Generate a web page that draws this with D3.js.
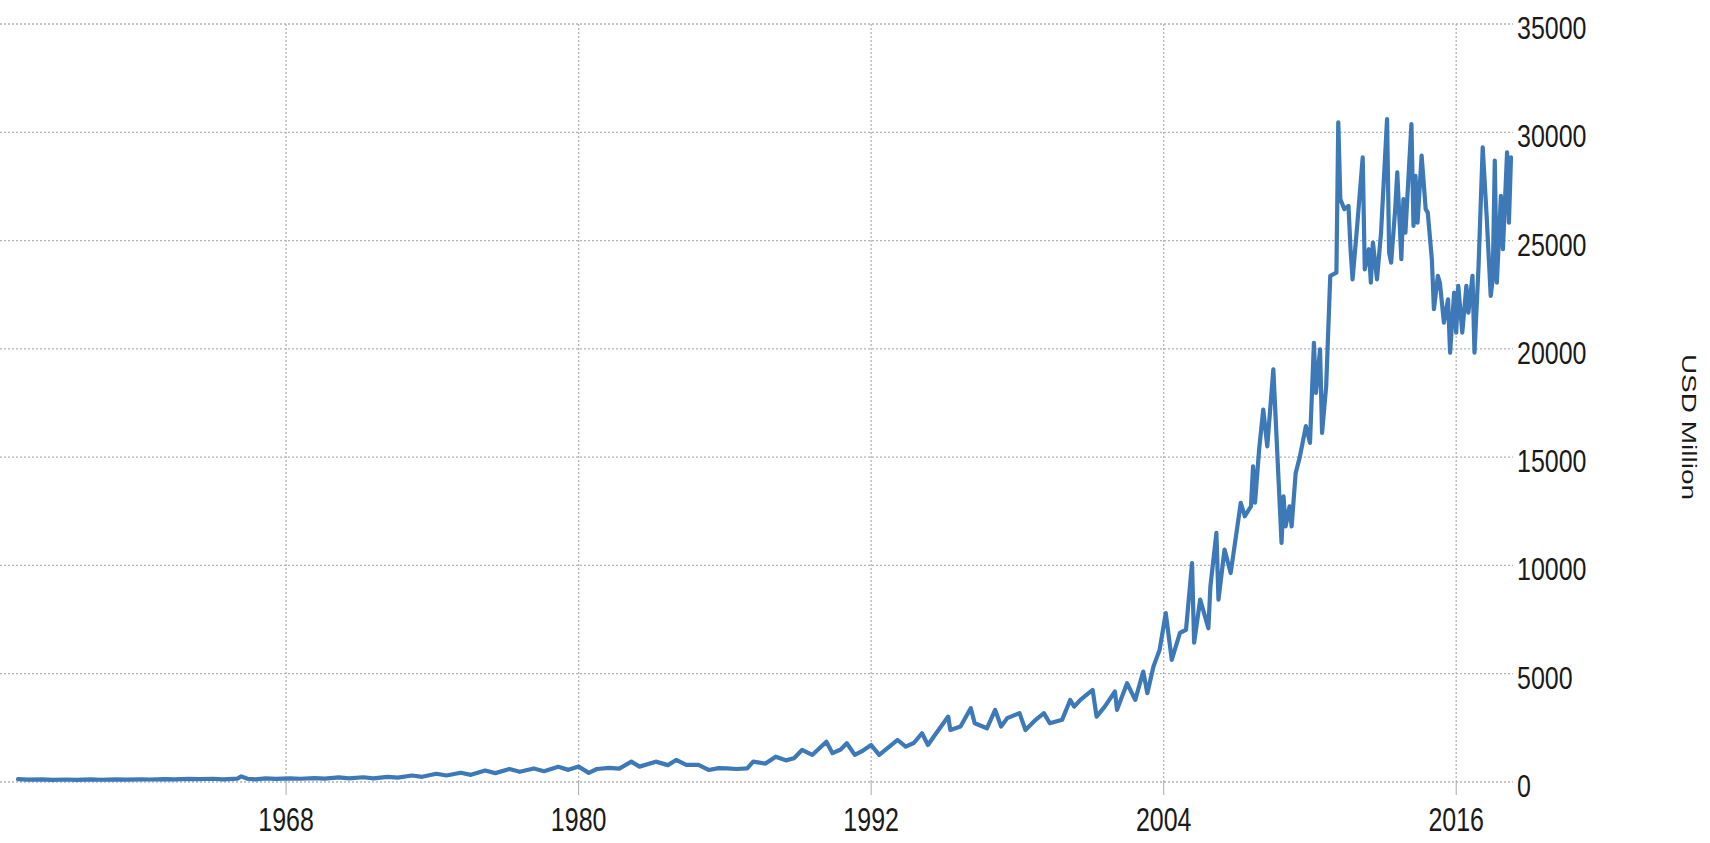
<!DOCTYPE html>
<html>
<head>
<meta charset="utf-8">
<script src="https://cdn.jsdelivr.net/npm/d3@7"></script>
<style>
  html, body { margin: 0; padding: 0; background: #fff; }
  svg { display: block; }
</style>
</head>
<body>
<svg id="chart" width="1710" height="843"></svg>
<script>
// ---- data (monthly samples, USD million) ----
const dates = [
  "1957-01","1957-06","1958-01","1958-06","1959-01","1959-06","1960-01","1960-06",
  "1961-01","1961-06","1962-01","1962-06","1963-01","1963-06","1964-01","1964-06",
  "1965-01","1965-06","1966-01","1966-03","1966-06","1966-10","1967-03","1967-08",
  "1968-03","1968-08","1969-03","1969-08","1970-03","1970-08","1971-03","1971-08",
  "1972-03","1972-08","1973-03","1973-08","1974-03","1974-08","1975-03","1975-08",
  "1976-03","1976-08","1977-03","1977-08","1978-03","1978-08","1979-03","1979-08",
  "1980-01","1980-06","1980-10","1981-04","1981-09","1982-03","1982-07","1983-03",
  "1983-09","1984-01","1984-06","1984-12","1985-05","1985-10","1986-02","1986-07",
  "1986-12","1987-03","1987-09","1988-02","1988-07","1988-11","1989-03","1989-08",
  "1990-03","1990-06","1990-10","1991-01","1991-05","1991-09","1992-01","1992-05",
  "1992-08","1993-02","1993-06","1993-10","1994-02","1994-05","1994-09","1995-03",
  "1995-04","1995-09","1996-02","1996-04","1996-10","1997-02","1997-05","1997-08",
  "1998-02","1998-05","1998-10","1999-02","1999-05","1999-11","2000-03","2000-05",
  "2000-08","2001-02","2001-04","2001-08","2002-01","2002-02","2002-07","2002-11",
  "2003-03","2003-05","2003-08","2003-11","2004-02","2004-05","2004-09","2004-12",
  "2005-03","2005-04","2005-07","2005-11","2005-12","2006-03","2006-04","2006-07",
  "2006-10","2007-03","2007-05","2007-08","2007-09","2007-10","2007-12","2008-02",
  "2008-04","2008-07","2008-11","2008-12","2009-01","2009-03","2009-04","2009-06",
  "2009-08","2009-11","2010-01","2010-03","2010-04","2010-06","2010-07","2010-09",
  "2010-11","2011-02","2011-03","2011-04","2011-06","2011-08","2011-09","2011-10",
  "2011-12","2012-03","2012-04","2012-06","2012-07","2012-08","2012-10","2012-12",
  "2013-03","2013-04","2013-05","2013-07","2013-08","2013-10","2013-11","2013-12",
  "2014-03","2014-04","2014-05","2014-06","2014-08","2014-10","2014-11","2015-01",
  "2015-02","2015-04","2015-05","2015-07","2015-09","2015-10","2015-12","2016-01",
  "2016-02","2016-04","2016-06","2016-07","2016-09","2016-10","2016-12","2017-02",
  "2017-04","2017-06","2017-07","2017-08","2017-09","2017-11","2017-12","2018-02",
  "2018-03","2018-04"
];
const exportsUSD = [
  130,110,120,95,115,100,120,105,
  125,110,125,115,135,120,145,130,
  150,125,160,260,150,120,170,140,
  170,150,180,155,210,165,220,170,
  240,200,300,240,380,300,430,330,
  530,410,600,470,620,500,700,560,
  710,420,600,650,620,940,710,940,
  780,1020,790,790,555,640,633,600,
  633,940,850,1170,1000,1095,1480,1250,
  1860,1330,1500,1790,1250,1450,1710,1250,
  1480,1940,1630,1800,2250,1710,2250,3020,
  2400,2560,3410,2710,2480,3330,2560,2950,
  3180,2400,2870,3180,2710,2870,3790,3480,
  3790,4250,3020,3480,4180,3330,4560,3790,
  5100,4100,5330,6100,7800,5640,6890,7030,
  10110,6430,8420,7100,9030,11500,8420,10730,
  9650,12890,12270,12730,14580,12900,15350,17200,
  15500,19050,11040,13190,11800,12730,11800,14270,
  15000,16430,15660,20280,17970,19980,16120,18280,
  23370,23520,30460,26910,26450,26600,24600,23210,
  25370,28840,23670,24600,23060,24910,23210,25370,
  30610,24450,23980,26450,28150,24140,26910,25370,
  30380,25680,27990,25830,28920,26450,26290,24140,
  21830,23370,23060,21210,22290,19820,22600,20750,
  22910,20750,22910,21670,23370,19820,23830,29300,
  26140,22440,23210,28690,23060,27060,24600,29070,
  25830,28840
];
const xTickYears = [1968, 1980, 1992, 2004, 2016];
const yTickValues = [0, 5000, 10000, 15000, 20000, 25000, 30000, 35000];
const yTitle = "USD Million";

// ---- build ----
const parse = d3.timeParse("%Y-%m");
const data = dates.map((d, i) => ({ date: parse(d), value: exportsUSD[i] }));

const svg = d3.select("#chart");
const plotLeft = 0, plotRight = 1513, plotTop = 24, plotBottom = 782;

const x = d3.scaleTime()
  .domain([parse("1957-01"), parse("2018-05")])
  .range([18, 1513]);
const y = d3.scaleLinear()
  .domain([0, 35000])
  .range([plotBottom, plotTop]);

const fontFam = "'Liberation Sans', Arial, sans-serif";
const gridColor = "#b4b4b4";

// horizontal gridlines
svg.append("g").selectAll("line").data(yTickValues).join("line")
  .attr("x1", plotLeft).attr("x2", plotRight)
  .attr("y1", d => y(d)).attr("y2", d => y(d))
  .attr("stroke", gridColor).attr("stroke-width", 1.3)
  .attr("stroke-dasharray", "2,2");

// vertical gridlines
const xTickDates = xTickYears.map(yr => new Date(yr, 0, 1));
svg.append("g").selectAll("line").data(xTickDates).join("line")
  .attr("x1", d => x(d)).attr("x2", d => x(d))
  .attr("y1", plotTop).attr("y2", plotBottom)
  .attr("stroke", gridColor).attr("stroke-width", 1.3)
  .attr("stroke-dasharray", "2,2");
// small tick marks below baseline
svg.append("g").selectAll("line").data(xTickDates).join("line")
  .attr("x1", d => x(d)).attr("x2", d => x(d))
  .attr("y1", plotBottom).attr("y2", plotBottom + 13)
  .attr("stroke", "#a8a8a8").attr("stroke-width", 1);

// line
const line = d3.line().x(d => x(d.date)).y(d => y(d.value));
svg.append("path").datum(data)
  .attr("d", line)
  .attr("fill", "none")
  .attr("stroke", "#3c79b6")
  .attr("stroke-width", 4.2)
  .attr("stroke-linejoin", "round")
  .attr("stroke-linecap", "round");

// x tick labels
svg.append("g").selectAll("text").data(xTickDates).join("text")
  .attr("transform", d => `translate(${x(d)},831) scale(1,1.32)`)
  .attr("text-anchor", "middle")
  .attr("font-family", fontFam).attr("font-size", 25)
  .attr("fill", "#1a1a1a")
  .text(d => d3.timeFormat("%Y")(d));

// y tick labels
svg.append("g").selectAll("text").data(yTickValues).join("text")
  .attr("transform", d => `translate(1517,${y(d) + 15}) scale(1,1.28)`)
  .attr("text-anchor", "start")
  .attr("font-family", fontFam).attr("font-size", 25)
  .attr("fill", "#1a1a1a")
  .text(d => d3.format("d")(d));

// y axis title
svg.append("text")
  .attr("transform", "translate(1689,427) scale(1,1.4) rotate(90)")
  .attr("text-anchor", "middle")
  .attr("dominant-baseline", "central")
  .attr("font-family", fontFam).attr("font-size", 20)
  .attr("fill", "#1a1a1a")
  .text(yTitle);
</script>
</body>
</html>
